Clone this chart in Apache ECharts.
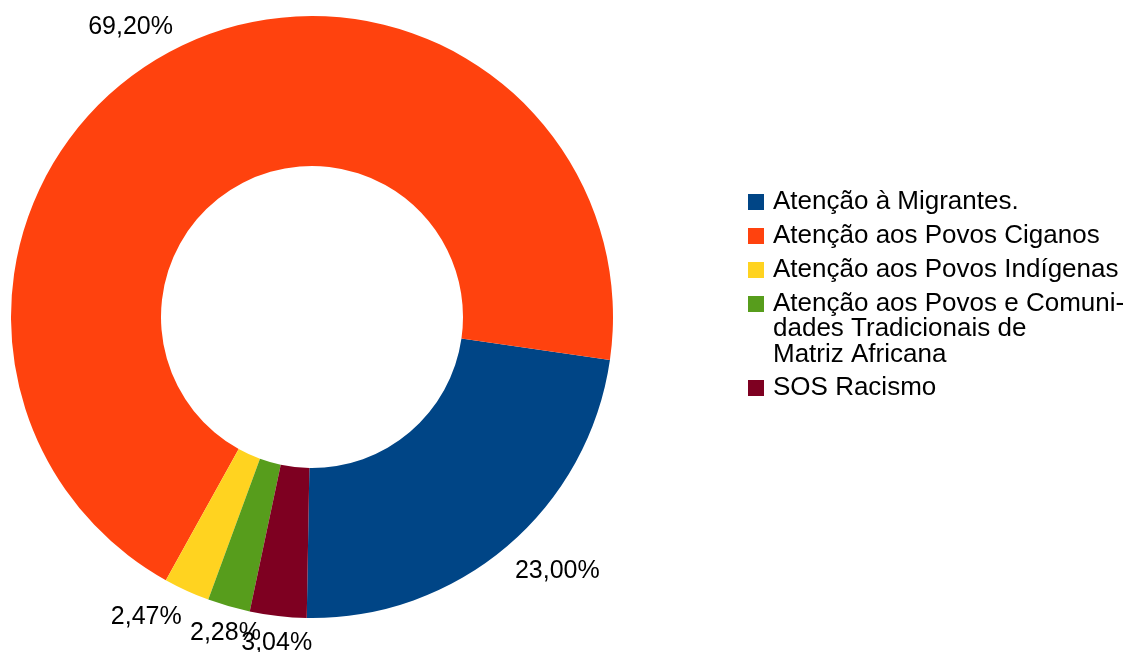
<!DOCTYPE html>
<html>
<head>
<meta charset="utf-8">
<script src="https://cdn.jsdelivr.net/npm/echarts@6/dist/echarts.min.js"></script>
<style>
  html, body { margin: 0; padding: 0; background: #fff; }
  #chart { width: 1130px; height: 652px; }
</style>
</head>
<body>
<div id="chart"></div>
<script>
const categories = [
  'Atenção à Migrantes.',
  'Atenção aos Povos Ciganos',
  'Atenção aos Povos Indígenas',
  'Atenção aos Povos e Comunidades Tradicionais de Matriz Africana',
  'SOS Racismo'
]
const values = [23.00, 69.20, 2.47, 2.28, 3.04]
const colors = ['#004586', '#ff420e', '#ffd320', '#579d1c', '#7e0021']

const longName = categories[3]
const total = values.reduce((a, b) => a + b, 0)
const font = 'Liberation Sans, Arial, sans-serif'

const cx = 312
const cy = 317
const rOuter = 301
const startAngle = 269

// label anchor for each of 8 directions (0deg = right, counterclockwise)
const anchors = [
  ['left', 'middle'], ['left', 'bottom'], ['center', 'bottom'], ['right', 'bottom'],
  ['right', 'middle'], ['right', 'top'], ['center', 'top'], ['left', 'top']
]

const legendText = {
  fontFamily: font,
  fontSize: 26,
  lineHeight: 26,
  color: '#000',
  padding: [0, 0, 0, 4]
}

const legendBase = {
  orient: 'vertical',
  left: 748,
  padding: 0,
  itemGap: 8,
  itemWidth: 16,
  itemHeight: 16,
  icon: 'rect',
  selectedMode: false,
  textStyle: legendText
}

const chart = echarts.init(document.getElementById('chart'))

chart.setOption({
  animation: false,
  color: colors,
  legend: [
    Object.assign({}, legendBase, {
      top: 189,
      data: categories.slice(0, 4),
      formatter: function(name) {
        return name === longName ? 'Atenção aos Povos e Comuni-' : name
      }
    }),
    Object.assign({}, legendBase, {
      top: 375,
      data: categories.slice(4)
    })
  ],
  // rest of the wrapped legend entry
  graphic: [{
    type: 'text',
    left: 773,
    top: 316,
    silent: true,
    style: {
      text: 'dades Tradicionais de\nMatriz Africana',
      fontFamily: font,
      fontSize: 26,
      lineHeight: 26,
      fill: '#000'
    }
  }],
  series: [{
    type: 'pie',
    center: [cx, cy],
    radius: [151, rOuter],
    startAngle: startAngle,
    clockwise: false,
    avoidLabelOverlap: false,
    silent: true,
    emphasis: { disabled: true },
    itemStyle: { borderWidth: 0 },
    label: {
      show: true,
      position: 'outside',
      fontFamily: font,
      fontSize: 25,
      color: '#000',
      formatter: function(p) {
        return values[p.dataIndex].toFixed(2).replace('.', ',') + '%'
      }
    },
    labelLine: { show: false },
    // anchor each label just outside the ring at the slice's middle angle
    labelLayout: function(params) {
      const i = params.dataIndex
      let before = 0
      for (let k = 0; k < i; k++) before += values[k]
      const deg = startAngle + (before + values[i] / 2) / total * 360
      const a = deg * Math.PI / 180
      const r = rOuter + 12
      const side = anchors[((Math.round(deg / 45) % 8) + 8) % 8]
      return {
        x: cx + Math.cos(a) * r,
        y: cy - Math.sin(a) * r + 3,
        align: side[0],
        verticalAlign: side[1]
      }
    },
    data: categories.map(function(name, i) {
      return { name: name, value: values[i] }
    })
  }]
})
</script>
</body>
</html>
